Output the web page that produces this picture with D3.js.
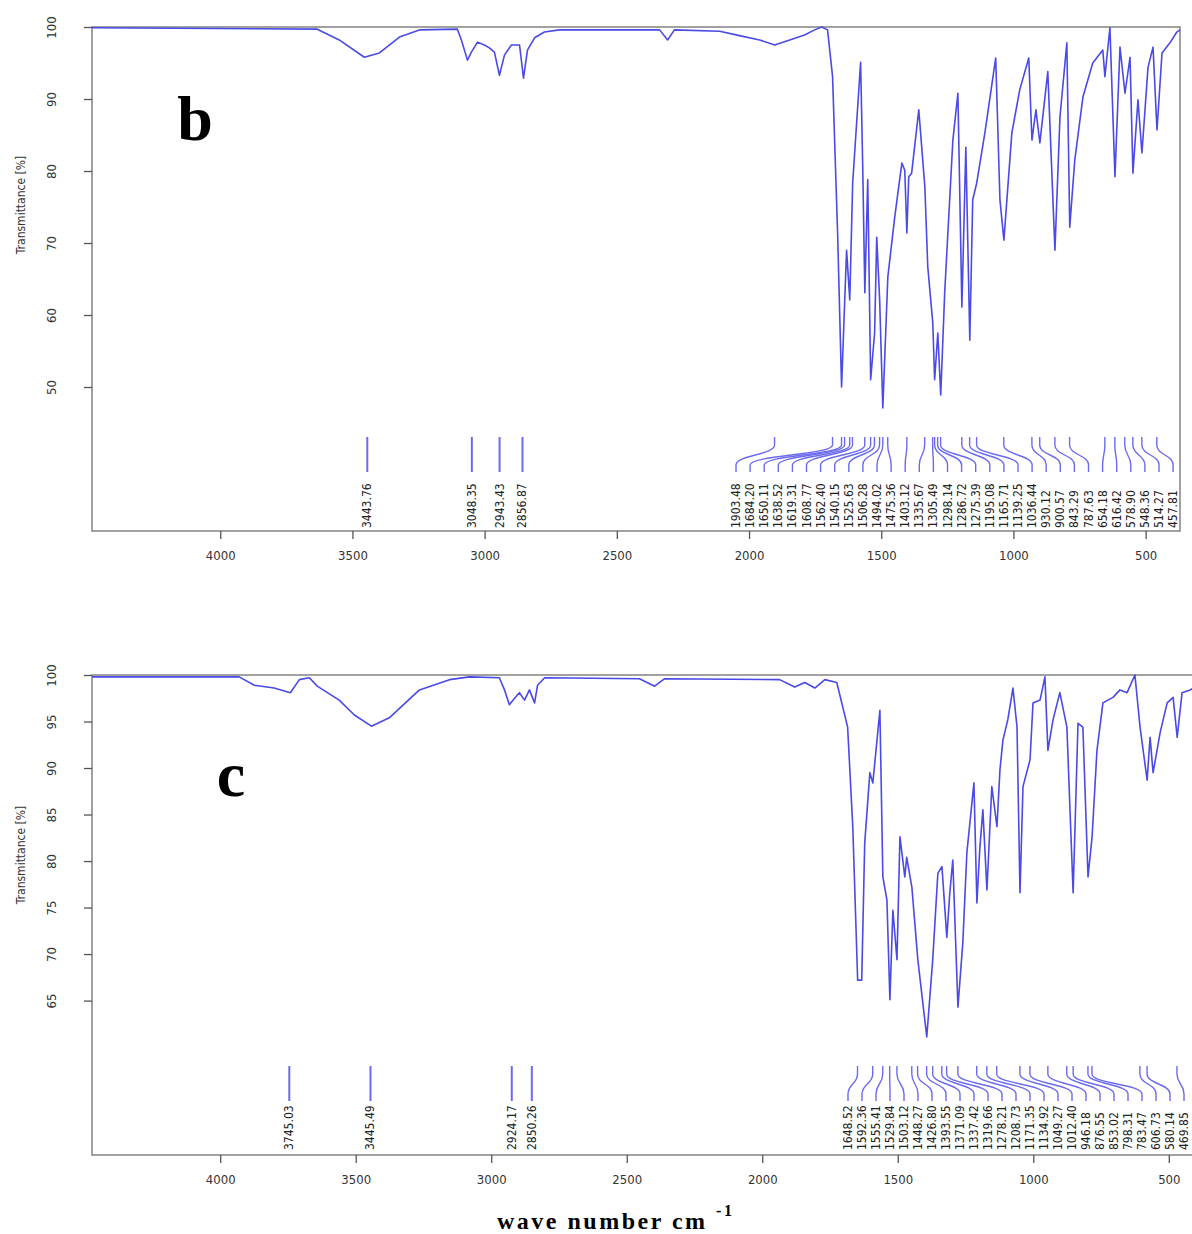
<!DOCTYPE html>
<html>
<head>
<meta charset="utf-8">
<script src="https://cdn.jsdelivr.net/npm/d3@7"></script>
<style>
  body { margin: 0; background: #fff; }
  svg { display: block; }
</style>
</head>
<body>
<svg id="chart" width="1192" height="1234"></svg>
<script>
// ---- spectrum b (wavenumber, transmittance %) ----
var bWave = [4485, 3633, 3550, 3455, 3398, 3322, 3247, 3103, 3088, 3065, 3050, 3027, 3001, 2982, 2963, 2944, 2925, 2899, 2868, 2853, 2838, 2811, 2774, 2717, 2338, 2308, 2282, 2111, 2036, 1960, 1903, 1846, 1790, 1752, 1725, 1703, 1684, 1665, 1650, 1638, 1631, 1619, 1608, 1578, 1570, 1562, 1551, 1540, 1525, 1517, 1506, 1494, 1475, 1449, 1422, 1411, 1403, 1396, 1385, 1358, 1335, 1324, 1305, 1298, 1286, 1275, 1260, 1229, 1210, 1195, 1180, 1165, 1154, 1139, 1108, 1067, 1051, 1036, 1006, 976, 942, 930, 915, 900, 870, 843, 824, 798, 787, 768, 737, 700, 662, 654, 635, 616, 597, 578, 559, 548, 529, 514, 491, 472, 457, 438, 408, 382, 370];
var bTrans = [99.9, 99.7, 98.2, 95.8, 96.4, 98.6, 99.6, 99.7, 98.2, 95.4, 96.5, 97.9, 97.5, 97.1, 96.5, 93.3, 96.1, 97.5, 97.5, 92.9, 96.8, 98.5, 99.3, 99.6, 99.6, 98.2, 99.6, 99.4, 98.8, 98.2, 97.5, 98.2, 98.9, 99.6, 100, 99.6, 93.1, 71.4, 50.0, 62.1, 69.0, 62.1, 78.3, 95.1, 80.6, 63.1, 78.8, 51.0, 57.5, 70.8, 62.1, 47.1, 65.3, 73.6, 81.1, 80.1, 71.4, 79.2, 79.7, 88.5, 77.8, 66.7, 58.9, 51.0, 57.5, 48.9, 63.1, 84.3, 90.8, 61.1, 83.3, 56.5, 76.0, 78.3, 85.3, 95.7, 76.0, 70.4, 85.3, 91.3, 95.7, 84.3, 88.5, 83.9, 93.8, 69.0, 87.5, 97.8, 72.2, 81.5, 90.3, 95.0, 96.8, 93.1, 99.9, 79.2, 97.2, 90.8, 95.8, 79.7, 89.9, 82.5, 94.4, 97.2, 85.7, 96.4, 97.8, 99.3, 99.6];
var bTicksY = [50, 60, 70, 80, 90, 100];
var bPeaksSingle = [3443.76, 3048.35, 2943.43, 2856.87];
var bPeaksGroup = [1903.48, 1684.20, 1650.11, 1638.52, 1619.31, 1608.77, 1562.40, 1540.15, 1525.63, 1506.28, 1494.02, 1475.36, 1403.12, 1335.67, 1305.49, 1298.14, 1286.72, 1275.39, 1195.08, 1165.71, 1139.25, 1036.44, 930.12, 900.57, 843.29, 787.63, 654.18, 616.42, 578.90, 548.36, 514.27, 457.81];

// ---- spectrum c ----
var cWave = [4473, 3930, 3874, 3801, 3741, 3708, 3671, 3642, 3561, 3505, 3442, 3376, 3265, 3154, 3080, 2970, 2951, 2933, 2914, 2896, 2877, 2859, 2840, 2829, 2803, 2453, 2397, 2360, 1936, 1880, 1843, 1806, 1769, 1725, 1685, 1666, 1648, 1633, 1622, 1603, 1592, 1566, 1555, 1540, 1529, 1518, 1503, 1492, 1474, 1467, 1448, 1426, 1393, 1371, 1352, 1337, 1319, 1308, 1297, 1278, 1260, 1245, 1219, 1208, 1197, 1186, 1171, 1153, 1134, 1123, 1112, 1094, 1075, 1060, 1049, 1038, 1012, 1001, 975, 957, 946, 927, 902, 876, 853, 835, 817, 798, 783, 765, 743, 706, 680, 654, 625, 606, 580, 569, 558, 532, 506, 484, 469, 451, 421, 407];
var cTrans = [99.8, 99.8, 98.9, 98.6, 98.1, 99.5, 99.7, 98.8, 97.3, 95.7, 94.5, 95.4, 98.4, 99.5, 99.8, 99.7, 98.4, 96.8, 97.5, 98.1, 97.3, 98.4, 97.0, 98.9, 99.7, 99.6, 98.8, 99.6, 99.5, 98.7, 99.2, 98.6, 99.5, 99.2, 94.4, 83.7, 67.2, 67.2, 81.9, 89.5, 88.4, 96.2, 78.3, 75.8, 65.1, 74.7, 69.4, 82.6, 78.3, 80.4, 77.2, 69.4, 61.1, 69.4, 78.7, 79.4, 71.8, 76.6, 80.1, 64.3, 71.2, 80.9, 88.4, 75.5, 81.5, 85.5, 76.9, 88.0, 83.7, 89.8, 93.0, 95.2, 98.6, 94.4, 76.6, 88.0, 90.9, 97.0, 97.3, 99.8, 91.9, 95.2, 98.1, 94.4, 76.6, 94.8, 94.4, 78.3, 82.6, 91.9, 97.0, 97.6, 98.4, 98.1, 100, 94.4, 88.7, 93.3, 89.5, 93.8, 97.0, 97.6, 93.3, 98.1, 98.4, 98.6];
var cTicksY = [65, 70, 75, 80, 85, 90, 95, 100];
var cPeaksSingle = [3745.03, 3445.49, 2924.17, 2850.26];
var cPeaksGroup = [1648.52, 1592.36, 1555.41, 1529.84, 1503.12, 1448.27, 1426.80, 1393.55, 1371.09, 1337.42, 1319.66, 1278.21, 1208.73, 1171.35, 1134.92, 1049.27, 1012.40, 946.18, 876.55, 853.02, 798.31, 783.47, 606.73, 580.14, 469.85];

var xTicks = [4000, 3500, 3000, 2500, 2000, 1500, 1000, 500];

var svg = d3.select('#chart');
var lineColor = '#4a4ae6';
var peakColor = '#6b6bef';
var tickFont = '"Liberation Sans Narrow", "DejaVu Sans Condensed", sans-serif';
var fmt = d3.format('.2f');

function drawPanel(p) {
    var x = d3.scaleLinear().domain(p.xDomain).range([p.left, p.right]);
    var y = d3.scaleLinear().domain(p.yDomain).range([p.bottom, p.top]);

    var g = svg.append('g');

    // frame
    g.append('rect')
        .attr('x', p.left).attr('y', p.top)
        .attr('width', p.right - p.left).attr('height', p.bottom - p.top)
        .attr('fill', 'none').attr('stroke', '#8a8a8a').attr('stroke-width', 1.6);

    // x axis
    var xAxis = d3.axisBottom(x).tickValues(xTicks).tickFormat(d3.format('d'))
        .tickSize(8).tickPadding(12);
    var gx = g.append('g')
        .attr('transform', 'translate(0,' + p.bottom + ')')
        .call(xAxis);
    gx.select('.domain').remove();
    gx.selectAll('line').attr('stroke', '#555').attr('stroke-width', 1.3);
    gx.selectAll('text')
        .attr('font-family', tickFont).attr('font-size', 13)
        .attr('fill', '#333');

    // y axis (labels rotated)
    var yAxis = d3.axisLeft(y).tickValues(p.yTicks).tickSize(8).tickPadding(0);
    var gy = g.append('g')
        .attr('transform', 'translate(' + p.left + ',0)')
        .call(yAxis);
    gy.select('.domain').remove();
    gy.selectAll('line').attr('stroke', '#555').attr('stroke-width', 1.3);
    gy.selectAll('text')
        .attr('x', null).attr('dy', null)
        .attr('font-family', tickFont).attr('font-size', 13).attr('fill', '#333')
        .attr('text-anchor', 'middle')
        .attr('dominant-baseline', 'central')
        .attr('transform', 'translate(-41,0) rotate(-90)');

    g.append('text')
        .attr('transform', 'translate(' + (p.left - 67) + ',' + p.yTitleY + ') rotate(-90)')
        .attr('text-anchor', 'middle')
        .attr('font-family', tickFont).attr('font-size', 12).attr('fill', '#333')
        .text('Transmittance [%]');

    // spectrum
    var pts = p.wave.map(function (w, i) { return [w, p.trans[i]]; });
    var line = d3.line()
        .x(function (d) { return x(d[0]); })
        .y(function (d) { return y(d[1]); });
    g.append('path')
        .datum(pts)
        .attr('d', line)
        .attr('fill', 'none')
        .attr('stroke', lineColor)
        .attr('stroke-width', 1.6)
        .attr('stroke-linejoin', 'round');

    // isolated peak markers
    g.selectAll('.single')
        .data(p.single)
        .enter().append('line')
        .attr('x1', function (d) { return x(d); })
        .attr('x2', function (d) { return x(d); })
        .attr('y1', p.peakTop).attr('y2', p.peakTop + 35)
        .attr('stroke', peakColor).attr('stroke-width', 2);

    g.selectAll('.singleLab')
        .data(p.single)
        .enter().append('text')
        .attr('transform', function (d) { return 'translate(' + x(d) + ',' + p.labelBottom + ') rotate(-90)'; })
        .attr('dominant-baseline', 'central')
        .attr('font-family', tickFont).attr('font-size', 12).attr('fill', '#222')
        .text(function (d) { return fmt(d); });

    // grouped peak markers with leader curves
    var y0 = p.peakTop, y1 = p.peakTop + 8, y2 = p.peakTop + 28, y3 = p.peakTop + 35;
    g.selectAll('.lead')
        .data(p.group)
        .enter().append('path')
        .attr('d', function (d, i) {
            var px = x(d), lx = p.groupStart + i * p.groupStep, ym = (y1 + y2) / 2;
            return 'M' + px + ',' + y0 + 'L' + px + ',' + y1 +
                'C' + px + ',' + ym + ' ' + lx + ',' + ym + ' ' + lx + ',' + y2 +
                'L' + lx + ',' + y3;
        })
        .attr('fill', 'none').attr('stroke', peakColor).attr('stroke-width', 1.4);

    g.selectAll('.groupLab')
        .data(p.group)
        .enter().append('text')
        .attr('transform', function (d, i) {
            return 'translate(' + (p.groupStart + i * p.groupStep) + ',' + p.labelBottom + ') rotate(-90)';
        })
        .attr('dominant-baseline', 'central')
        .attr('font-family', tickFont).attr('font-size', 12).attr('fill', '#222')
        .text(function (d) { return fmt(d); });

    // panel letter
    g.append('text')
        .attr('x', p.letterX).attr('y', p.letterY)
        .attr('text-anchor', 'middle')
        .attr('font-family', '"Liberation Serif", "Times New Roman", serif')
        .attr('font-weight', 'bold').attr('font-size', 64)
        .text(p.letter);
}

drawPanel({
    left: 92, right: 1180, top: 27, bottom: 531,
    xDomain: [4485, 370], yDomain: [30, 100], yTicks: bTicksY,
    wave: bWave, trans: bTrans,
    single: bPeaksSingle, group: bPeaksGroup,
    peakTop: 437, labelBottom: 528,
    groupStart: 736, groupStep: 14.1,
    yTitleY: 205,
    letter: 'b', letterX: 195, letterY: 140
});

drawPanel({
    left: 92, right: 1194, top: 675, bottom: 1155,
    xDomain: [4473, 407], yDomain: [48.4, 100], yTicks: cTicksY,
    wave: cWave, trans: cTrans,
    single: cPeaksSingle, group: cPeaksGroup,
    peakTop: 1066, labelBottom: 1150,
    groupStart: 848, groupStep: 14.0,
    yTitleY: 855,
    letter: 'c', letterX: 231, letterY: 796
});

// x axis title
var title = svg.append('text')
    .attr('x', 497).attr('y', 1229)
    .attr('font-family', '"Liberation Serif", "Times New Roman", serif')
    .attr('font-weight', 'bold').attr('font-size', 24)
    .attr('letter-spacing', 2.5);
title.append('tspan').text('wave number cm ');
title.append('tspan').attr('dy', -13).attr('font-size', 16).text('-1');
</script>
</body>
</html>
